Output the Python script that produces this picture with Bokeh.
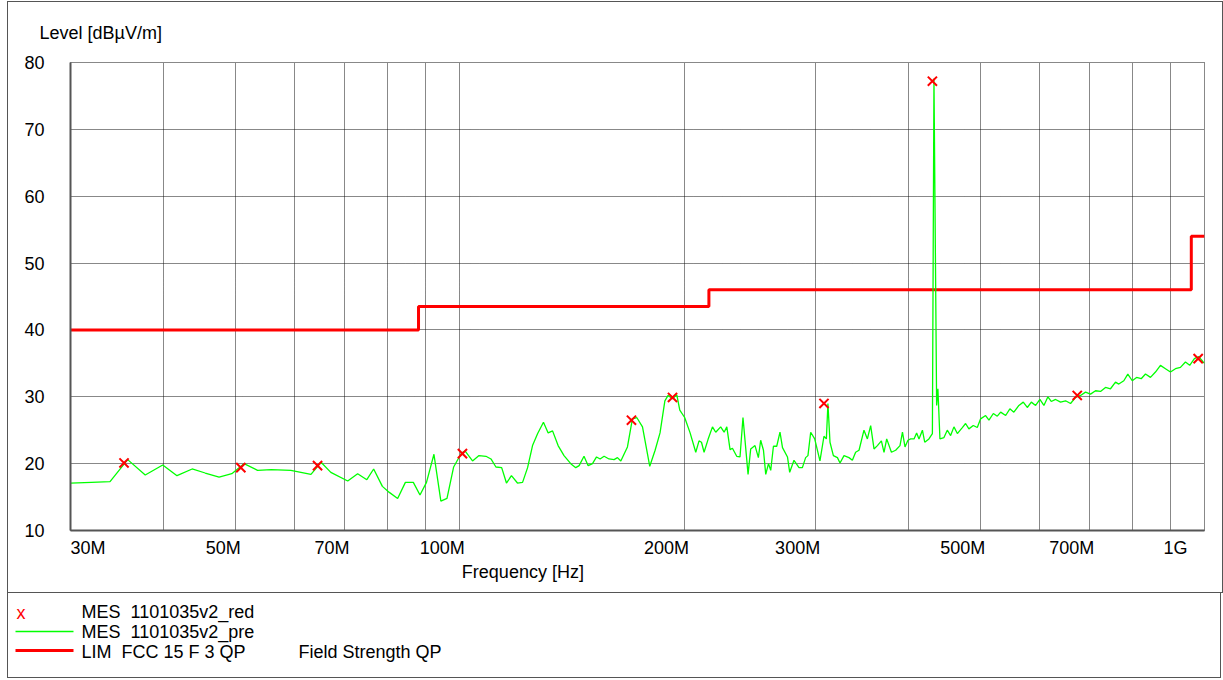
from bokeh.plotting import figure
from bokeh.models import Range1d, FixedTicker, ColumnDataSource
from bokeh.layouts import column
from bokeh.embed import file_html
from bokeh.resources import INLINE
from bokeh.core.properties import value

FONT = "Liberation Sans"

# ---------------- data ----------------
# pre-scan trace (MHz, dBuV/m)
trace_mhz = [
    30.0, 32.0, 33.9, 35.8, 37.8, 39.9, 41.7, 43.7, 45.5, 47.5,
    49.4, 51.3, 53.5, 55.8, 59.3, 63.1, 65.1, 67.1, 70.7, 72.9,
    75.0, 76.6, 78.7, 80.4, 82.5, 84.5, 86.6, 88.4, 90.2, 92.3,
    94.3, 96.1, 98.1, 100.5, 101.6, 104.0, 106.1, 108.4, 110.1, 111.8,
    113.8, 115.5, 117.3, 119.5, 121.4, 123.3, 125.2, 127.2, 129.5, 131.4,
    133.2, 135.5, 138.0, 140.9, 143.1, 144.6, 146.8, 148.7, 150.7, 152.6,
    154.3, 156.2, 158.6, 161.1, 162.8, 164.5, 167.9, 170.5, 172.8, 175.9,
    179.9, 182.9, 185.7, 188.5, 190.4, 193.0, 195.6, 197.4, 200.4, 203.8,
    207.4, 209.5, 211.1, 212.8, 215.4, 218.4, 220.6, 224.0, 226.4, 228.3,
    230.6, 232.3, 235.4, 237.8, 240.0, 243.8, 245.8, 249.1, 251.7, 253.5,
    255.7, 257.5, 259.7, 261.5, 263.7, 266.4, 269.1, 271.2, 275.4, 277.3,
    281.0, 285.4, 288.4, 291.3, 293.4, 295.9, 299.6, 304.5, 308.3, 310.6,
    312.1, 314.1, 317.4, 321.4, 324.0, 328.0, 333.1, 336.6, 340.0, 343.6,
    348.9, 352.6, 356.2, 359.9, 363.7, 368.2, 371.2, 374.3, 379.8, 384.8,
    390.0, 393.0, 396.1, 399.7, 403.1, 407.3, 410.6, 413.6, 418.0, 421.0,
    426.5, 431.1, 433.2, 436.8, 438.5, 441.3, 446.8, 451.4, 456.1, 460.8,
    465.7, 472.9, 477.7, 482.6, 489.2, 495.3, 500.4, 508.2, 513.5, 520.5,
    526.9, 532.4, 540.7, 547.8, 554.6, 563.3, 571.0, 578.1, 585.4, 593.2,
    601.1, 608.6, 616.2, 622.6, 631.0, 640.8, 650.8, 660.9, 671.2, 681.6,
    692.2, 703.0, 713.9, 725.0, 736.3, 747.8, 759.4, 767.2, 779.2, 788.9,
    799.8, 810.5, 822.2, 833.2, 846.1, 859.3, 872.7, 886.3, 900.1, 914.1,
    928.3, 942.8, 955.3, 969.2, 982.4, 996.0, 1000.0,
]
trace_level = [
    17.1, 17.2, 17.3, 20.6, 18.3, 19.8, 18.2, 19.2, 18.6, 18.0,
    18.5, 20.0, 19.0, 19.1, 19.0, 18.4, 20.2, 18.7, 17.4, 18.5,
    17.6, 19.2, 16.6, 15.7, 14.8, 17.2, 17.2, 15.3, 17.2, 21.4,
    14.4, 14.8, 19.5, 21.6, 21.9, 20.4, 21.2, 21.1, 20.7, 19.5,
    19.4, 17.1, 18.2, 17.1, 17.2, 19.4, 22.7, 24.5, 26.2, 24.6,
    24.9, 22.7, 21.2, 20.0, 19.4, 19.7, 21.1, 19.7, 20.0, 21.0,
    20.7, 21.1, 20.7, 20.6, 20.9, 20.4, 22.5, 26.7, 26.9, 25.5,
    19.6, 22.0, 24.6, 29.4, 30.2, 29.7, 30.3, 28.0, 26.9, 24.6,
    21.7, 23.4, 23.2, 21.7, 23.6, 25.5, 24.7, 25.5, 24.7, 25.5,
    22.1, 22.3, 21.1, 21.0, 26.9, 18.4, 22.2, 22.7, 20.9, 23.5,
    22.0, 18.4, 20.0, 19.0, 22.6, 22.6, 24.7, 22.4, 21.0, 18.7,
    20.5, 19.4, 19.4, 20.9, 21.2, 24.7, 23.7, 20.4, 24.1, 23.7,
    29.0, 23.2, 21.2, 20.9, 20.1, 21.2, 20.9, 20.5, 21.7, 22.0,
    25.0, 23.7, 25.7, 22.2, 22.7, 23.4, 21.7, 23.7, 21.7, 22.0,
    22.7, 24.7, 22.5, 23.5, 23.7, 23.7, 24.6, 23.7, 25.0, 23.2,
    23.7, 24.5, 77.6, 28.7, 31.2, 23.7, 23.9, 25.0, 24.2, 25.5,
    24.5, 25.4, 26.0, 25.2, 25.7, 25.4, 26.7, 27.2, 26.5, 27.5,
    27.1, 27.7, 27.2, 28.2, 27.7, 28.7, 29.2, 28.4, 29.2, 28.7,
    29.6, 28.7, 30.0, 29.3, 29.6, 29.2, 29.4, 29.0, 29.9, 30.2,
    30.7, 30.4, 30.9, 30.8, 31.4, 31.2, 32.2, 31.9, 32.4, 33.4,
    32.4, 32.9, 32.7, 33.4, 32.9, 33.7, 34.7, 34.2, 33.7, 34.2,
    34.4, 35.2, 34.7, 35.7, 36.0, 35.2, 35.0,
]

# final (reduced) measurement points
peak_mhz = [35.4, 50.8, 64.4, 100.8, 170.0, 193.0, 308.3, 431.1, 674.7, 980.6]
peak_level = [20.1, 19.4, 19.7, 21.5, 26.5, 29.9, 29.0, 77.2, 30.2, 35.7]

# FCC 15 limit (QP, 3 m)
limit_mhz = [30, 88, 88, 216, 216, 960, 960, 1000]
limit_level = [40, 40, 43.5, 43.5, 46, 46, 54, 54]

# axes
y_ticks = [10, 20, 30, 40, 50, 60, 70, 80]
x_grid_mhz = [40, 50, 60, 70, 80, 90, 100, 200, 300, 400, 500, 600, 700, 800, 900]
x_label_mhz = [30, 50, 70, 100, 200, 300, 500, 700, 1000]
x_label_text = ["30M", "50M", "70M", "100M", "200M", "300M", "500M", "700M", "1G"]
x_label_align = ["left", "right", "right", "right", "right", "right", "right", "right", "right"]
x_label_shift = [0, 5, 5, 5, 5, 5, 5, 5, -17]

x_title = "Frequency [Hz]"
y_title = "Level [dBµV/m]"
legend_text = ["MES\u00a0 1101035v2_red", "MES\u00a0 1101035v2_pre", "LIM\u00a0 FCC 15 F 3 QP"]

GRID = "#111111"
AXIS = "#555555"
BORDER = "1px solid #555555"
W_IN = 1214
MB_L, MB_R = 62, 18


def blank(fig, alpha=1.0):
    fig.frame_align = False
    fig.grid.visible = False
    fig.outline_line_color = None
    fig.background_fill_color = "white"
    fig.border_fill_color = "white"
    fig.background_fill_alpha = alpha
    fig.border_fill_alpha = alpha


TXT = dict(text_color="black", text_font=value(FONT), text_font_size="18px",
           text_baseline="middle")

# ---------------- top strip (y title) ----------------
H_TOP = 45
top = figure(width=W_IN, height=H_TOP, x_range=Range1d(0, W_IN), y_range=Range1d(H_TOP, 0),
             output_backend="svg", toolbar_location=None, min_border=0,
             x_axis_location=None, y_axis_location=None)
blank(top)
top.text(x=[31], y=[30], text=[y_title], **TXT)

# ---------------- chart ----------------
MB_T, MB_B, FRAME_H = 15, 20, 468
xr = Range1d(30, 1000)
p = figure(width=W_IN, height=MB_T + FRAME_H + MB_B, x_axis_type="log",
           x_range=xr, y_range=Range1d(10, 80),
           output_backend="svg", toolbar_location=None,
           min_border_left=MB_L, min_border_right=MB_R,
           min_border_top=MB_T, min_border_bottom=MB_B)
p.frame_align = False
p.background_fill_color = "white"
p.border_fill_color = "white"
p.outline_line_color = GRID
p.outline_line_dash = "1 1"
p.outline_line_width = 1

p.yaxis.ticker = FixedTicker(ticks=y_ticks)
p.xaxis.ticker = FixedTicker(ticks=[])
p.xgrid.ticker = FixedTicker(ticks=x_grid_mhz)
p.ygrid.ticker = FixedTicker(ticks=y_ticks[1:-1])
for g in (p.xgrid, p.ygrid):
    g.grid_line_color = GRID
    g.grid_line_dash = "1 1"
    g.grid_line_width = 1

for ax in (p.xaxis, p.yaxis):
    ax.axis_line_color = AXIS
    ax.axis_line_width = 2
    ax.major_tick_line_color = None
    ax.minor_tick_line_color = None
    ax.major_tick_out = 0
    ax.major_tick_in = 0
    ax.major_label_text_font = FONT
    ax.major_label_text_font_size = "18px"
    ax.major_label_text_color = "black"
p.yaxis.major_label_standoff = 26

p.line(limit_mhz, limit_level, line_color="#ff0000", line_width=3)
p.line(trace_mhz, trace_level, line_color="#00ff00", line_width=1.3)
p.scatter(peak_mhz, peak_level, marker="x", size=13, line_color="#ff0000", line_width=2)

# ---------------- bottom strip (x tick labels + x title), same x scale ----------------
# it overlaps the chart's lower margin and is transparent
OVERLAP = 14
H_BOT = 590 - H_TOP - (MB_T + FRAME_H + MB_B) + OVERLAP
TICK_Y = 11
bot = figure(width=W_IN, height=H_BOT, x_axis_type="log", x_range=xr,
             y_range=Range1d(H_BOT, 0), output_backend="svg", toolbar_location=None,
             min_border_left=MB_L, min_border_right=MB_R, min_border_top=0, min_border_bottom=0,
             x_axis_location=None, y_axis_location=None)
blank(bot, alpha=0.0)
tick_src = ColumnDataSource(dict(x=x_label_mhz, y=[TICK_Y] * len(x_label_mhz), t=x_label_text,
                                 a=x_label_align, dx=x_label_shift))
bot.text(x="x", y="y", text="t", text_align="a", x_offset="dx", source=tick_src, **TXT)
bot.text(x=[100], y=[TICK_Y + 24], text=[x_title], x_offset=2, **TXT)
bot.styles = {"margin-top": f"-{OVERLAP}px", "position": "relative", "z-index": "2"}

chart_block = column(top, p, bot, spacing=0, styles={"border": BORDER})

# ---------------- legend panel ----------------
H_LEG = 85
lg = figure(width=W_IN, height=H_LEG, x_range=Range1d(0, W_IN), y_range=Range1d(H_LEG, 0),
            output_backend="svg", toolbar_location=None, min_border=0,
            x_axis_location=None, y_axis_location=None)
blank(lg)
rows_y = [18, 38, 58]
lg.text(x=[8], y=[rows_y[0] + 1], text=["x"], text_color="#ff0000",
        text_font=value(FONT), text_font_size="18px", text_baseline="middle")
lg.line([7, 65], [rows_y[1], rows_y[1]], line_color="#00ff00", line_width=1.3)
lg.line([7, 65], [rows_y[2] - 1, rows_y[2] - 1], line_color="#ff0000", line_width=3)
src = ColumnDataSource(dict(x=[73, 73, 73], y=rows_y, t=legend_text))
lg.text(x="x", y="y", text="t", source=src, **TXT)
lg.text(x=[290], y=[rows_y[2]], text=["Field Strength QP"], **TXT)
lg.styles = {"border-left": BORDER, "border-right": BORDER, "border-bottom": BORDER}

layout = column(chart_block, lg, spacing=0, margin=(1, 0, 0, 7))
open("out.html", "w").write(file_html(layout, INLINE))
